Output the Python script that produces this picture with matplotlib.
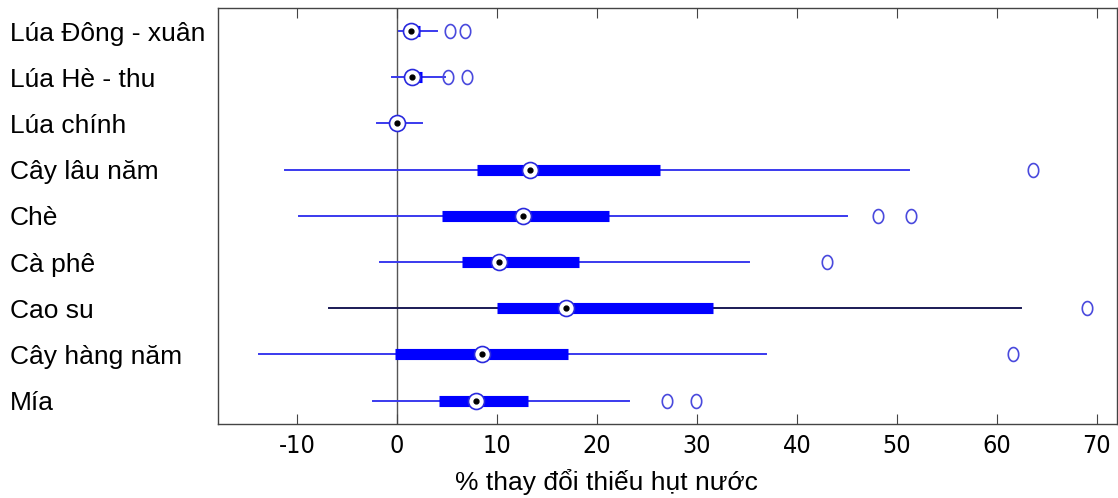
import matplotlib.pyplot as plt
from matplotlib.path import Path
import numpy as np

# crop groups, top to bottom
crops = ['Lúa Đông - xuân', 'Lúa Hè - thu', 'Lúa chính', 'Cây lâu năm', 'Chè',
         'Cà phê', 'Cao su', 'Cây hàng năm', 'Mía']

# box-plot summaries (% change)
whisker_lo = [0.2, -0.5, -2.0, -11.2, -9.8, -1.7, -6.8, -13.8, -2.4]
q1 = [1.0, 1.0, -0.3, 8.0, 4.5, 6.5, 10.0, -0.2, 4.2]
median = [1.4, 1.5, 0.0, 13.3, 12.6, 10.2, 16.9, 8.5, 7.9]
q3 = [2.3, 2.5, 0.4, 26.3, 21.2, 18.2, 31.6, 17.1, 13.1]
whisker_hi = [4.0, 4.8, 2.5, 51.2, 45.0, 35.2, 62.4, 36.9, 23.2]
outliers = [[5.3, 6.8], [5.1, 7.0], [], [63.6], [48.1, 51.4], [43.0], [69.0], [61.6], [27.0, 29.9]]

xticks = [-10, 0, 10, 20, 30, 40, 50, 60, 70]

plt.rcParams['font.family'] = ['Liberation Sans', 'DejaVu Sans']

# tall "o" marker for the outliers
t = np.linspace(0, 2 * np.pi, 60)
oval = Path(np.column_stack([0.75 * np.cos(t), np.sin(t)]))

fig = plt.figure(figsize=(11.18, 4.98), dpi=100)
ax = fig.add_axes([0.195, 0.149, 0.804, 0.835])

n = len(crops)
ypos = list(range(n, 0, -1))

ax.axvline(0, color='#555555', lw=1.0, zorder=1)

for i, y in enumerate(ypos):
    wcol = '#1a1a55' if crops[i] == 'Cao su' else '#3a3aee'
    ax.plot([whisker_lo[i], whisker_hi[i]], [y, y], color=wcol, lw=1.4, zorder=2)
    ax.plot([q1[i], q3[i]], [y, y], color='#0000ff', lw=8, solid_capstyle='butt', zorder=3)
    ax.plot(median[i], y, 'o', ms=11.5, mfc='white', mec='#2a2add', mew=1.2, zorder=4)
    ax.plot(median[i], y, 'o', ms=3.5, color='black', zorder=5)
    if outliers[i]:
        ax.plot(outliers[i], [y] * len(outliers[i]), marker=oval, ls='none', ms=10,
                mfc='none', mec='#4a4add', mew=1.2, zorder=4)

ax.set_xlim(-17.9, 72.0)
ax.set_ylim(0.5, n + 0.5)
ax.set_xticks(xticks)
ax.set_xticklabels([str(t) for t in xticks], family='DejaVu Sans', stretch='condensed',
                   fontsize=18)
ax.tick_params(axis='x', direction='in', length=7, top=True, pad=7, color='#444444')
ax.set_yticks(ypos)
ax.set_yticklabels(crops, fontsize=19)
ax.tick_params(axis='y', length=0, pad=150)
for lab in ax.get_yticklabels():
    lab.set_ha('left')

ax.set_xlabel('% thay đổi thiếu hụt nước', fontsize=19)
ax.xaxis.set_label_coords(0.432, -0.108)

for s in ax.spines.values():
    s.set_color('#444444')
    s.set_linewidth(1.0)

fig.savefig('out.png', dpi=100)
